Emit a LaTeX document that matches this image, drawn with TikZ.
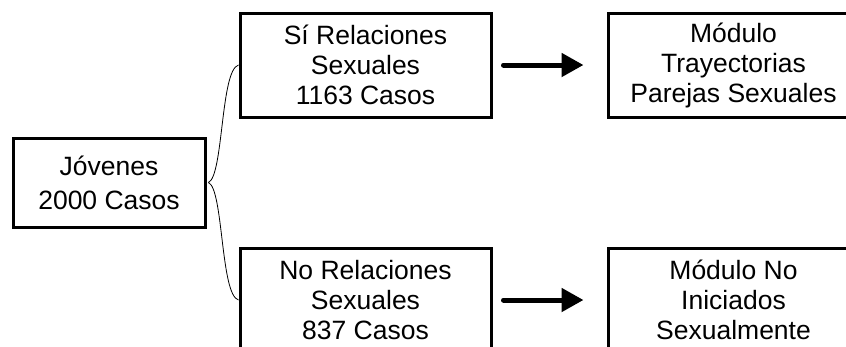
\documentclass[tikz,border=0pt]{standalone}
\usepackage{fontspec}
\setmainfont{Liberation Sans}
\usetikzlibrary{arrows.meta}
\tikzset{
  box/.style={draw=black, line width=3pt, inner sep=0pt, align=center,
    font=\fontsize{26.5}{30}\selectfont},
  brace/.style={line width=0.8pt},
  bigarrow/.style={line width=5pt, line cap=round, -{Triangle[length=22pt,width=23pt]}}
}
\begin{document}
\begin{tikzpicture}[x=1pt,y=-1pt]
\useasboundingbox (0,0) rectangle (846,346);
\clip (0,0) rectangle (846,346);
\node[box, minimum width=192pt, minimum height=89pt, font=\fontsize{26.5}{34}\selectfont] (jov) at (109,182.5) {Jóvenes\\2000 Casos};
\node[box, minimum width=251pt, minimum height=104pt] (si) at (365.5,65) {Sí Relaciones\\Sexuales\\1163 Casos};
\node[box, minimum width=251pt, minimum height=104pt] (mtp) at (733.5,65) {Módulo\\Trayectorias\\Parejas Sexuales};
\node[box, minimum width=251pt, minimum height=104pt] (no) at (365.5,300) {No Relaciones\\Sexuales\\837 Casos};
\node[box, minimum width=251pt, minimum height=104pt] (mni) at (733.5,300) {Módulo No\\Iniciados\\Sexualmente};
\coordinate (tip) at ([xshift=2pt]jov.east);
\draw[brace] (tip) .. controls ([xshift=15pt,yshift=7pt]tip) and ([xshift=-18pt,yshift=-5pt]si.west) .. (si.west);
\draw[brace] (tip) .. controls ([xshift=15pt,yshift=-7pt]tip) and ([xshift=-18pt,yshift=5pt]no.west) .. (no.west);
\draw[bigarrow] ([xshift=11pt]si.east) -- ([xshift=-23pt]mtp.west);
\draw[bigarrow] ([xshift=11pt]no.east) -- ([xshift=-23pt]mni.west);
\end{tikzpicture}
\end{document}
